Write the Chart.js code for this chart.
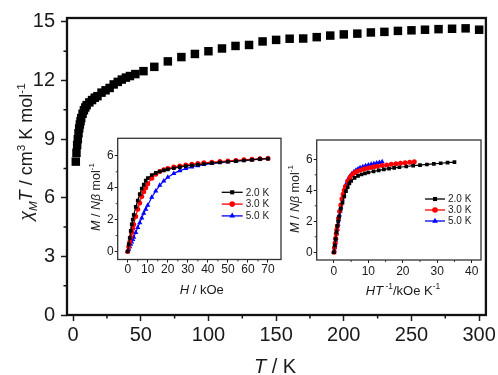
<!DOCTYPE html>
<html>
<head>
<meta charset="utf-8">
<script src="https://cdn.jsdelivr.net/npm/chart.js@4.4.0/dist/chart.umd.min.js"></script>
<style>
  body { margin: 0; background: #fff; }
  #wrap { position: relative; width: 498px; height: 375px; }
  canvas { position: absolute; }
</style>
</head>
<body>
<div id="wrap">
  <canvas id="main" width="498" height="375" style="left:0;top:0"></canvas>
  <canvas id="ins1" width="205" height="170" style="left:80px;top:130px"></canvas>
  <canvas id="ins2" width="205" height="170" style="left:285px;top:130px"></canvas>
</div>
<script>
// main plot: chiM*T against T
var tempK = [2, 2.5, 3, 3.5, 4, 4.5, 5, 5.5, 6, 7, 8, 9, 10, 12, 14, 16, 18, 21, 24, 27, 30, 33, 36, 39, 42, 46, 52,
  60, 70, 80, 90, 100, 110, 120, 130, 140, 150, 160, 170, 180, 190, 200, 210, 220, 230, 240, 250, 260, 270, 280, 290, 300];
var chiT = [7.85, 8.3, 8.7, 9.0, 9.3, 9.55, 9.75, 9.92, 10.08, 10.3, 10.48, 10.62, 10.74, 10.88, 11.0, 11.12, 11.2, 11.38, 11.5, 11.62, 11.8, 11.93, 12.05, 12.15, 12.23, 12.33, 12.48,
  12.7, 12.98, 13.2, 13.36, 13.5, 13.64, 13.77, 13.82, 14.0, 14.08, 14.14, 14.15, 14.22, 14.3, 14.36, 14.4, 14.46, 14.49, 14.54, 14.57, 14.6, 14.63, 14.65, 14.67, 14.6];
var mainXTicks = [0, 50, 100, 150, 200, 250, 300];
var mainYTicks = [0, 3, 6, 9, 12, 15];
var mainXMinor = [25, 75, 125, 175, 225, 275];
var mainYMinor = [1.5, 4.5, 7.5, 10.5, 13.5];

// insets: magnetisation at 2, 3 and 5 K
var fieldH = [0, 0.5, 1, 1.5, 2, 2.5, 3, 4, 5, 6, 7, 8, 9, 10, 12, 14, 16, 18, 20, 23, 26, 29, 32, 35, 38, 42, 46, 50, 54, 58, 62, 66, 70];
var mag2K = [0, 0.45, 0.85, 1.3, 1.7, 2.0, 2.3, 2.8, 3.2, 3.6, 3.95, 4.2, 4.45, 4.6, 4.8, 4.93, 5.02, 5.09, 5.15, 5.22, 5.29, 5.35, 5.4, 5.45, 5.49, 5.54, 5.59, 5.63, 5.67, 5.71, 5.75, 5.79, 5.82];
var mag3K = [0, 0.3, 0.6, 0.9, 1.2, 1.45, 1.7, 2.2, 2.65, 3.05, 3.45, 3.75, 4.0, 4.25, 4.6, 4.85, 5.02, 5.13, 5.21, 5.3, 5.37, 5.43, 5.48, 5.52, 5.56, 5.6, 5.64, 5.68, 5.71, 5.75, 5.78, 5.81, 5.84];
var mag5K = [0, 0.15, 0.3, 0.45, 0.6, 0.75, 0.9, 1.2, 1.5, 1.8, 2.1, 2.4, 2.65, 2.9, 3.4, 3.8, 4.15, 4.42, 4.65, 4.9, 5.07, 5.2, 5.3, 5.38, 5.45, 5.52, 5.58, 5.63, 5.68, 5.72, 5.76, 5.8, 5.84];
var seriesTemps = [2.0, 3.0, 5.0];
var seriesNames = ['2.0 K', '3.0 K', '5.0 K'];
var ins1XTicks = [0, 10, 20, 30, 40, 50, 60, 70];
var ins1XMinor = [5, 15, 25, 35, 45, 55, 65];
var ins2XTicks = [0, 10, 20, 30, 40];
var ins2XMinor = [5, 15, 25, 35];
var insYTicks = [0, 2, 4, 6];
var insYMinor = [1, 3, 5];

var FONT = '"Liberation Sans", Arial, sans-serif';
var INK = '#1a1a1a';

// draws a label made of runs (italic / sup / sub), centred on x,y
function rich(ctx, runs, size, x, y, rot) {
  ctx.save();
  ctx.translate(x, y);
  if (rot) ctx.rotate(rot);
  var total = 0;
  runs.forEach(function(r) {
    var s = (r.sup || r.sub) ? size * 0.65 : size;
    r.font = (r.it ? 'italic ' : '') + s + 'px ' + FONT;
    ctx.font = r.font;
    r.w = ctx.measureText(r.t).width;
    total += r.w;
  });
  var cx = -total / 2;
  ctx.fillStyle = INK;
  ctx.textBaseline = 'alphabetic';
  ctx.textAlign = 'left';
  runs.forEach(function(r) {
    var by = size * 0.36;
    if (r.sup) by -= size * 0.42;
    if (r.sub) by += size * 0.25;
    ctx.font = r.font;
    ctx.fillText(r.t, cx, by);
    cx += r.w;
  });
  ctx.restore();
}

function mark(ctx, style, x, y, r, color) {
  ctx.fillStyle = color;
  ctx.beginPath();
  if (style === 'rect') {
    var s = r * Math.SQRT2;
    ctx.rect(x - s / 2, y - s / 2, s, s);
  } else if (style === 'circle') {
    ctx.arc(x, y, r, 0, Math.PI * 2);
  } else {
    var a = 0;
    for (var i = 0; i < 3; i++) {
      ctx.lineTo(x + Math.sin(a) * r, y - Math.cos(a) * r);
      a += Math.PI * 2 / 3;
    }
    ctx.closePath();
  }
  ctx.fill();
}

function deco(cfg) {
  return {
    id: 'deco',
    afterDraw: function(chart) {
      var ctx = chart.ctx, a = chart.chartArea, sx = chart.scales.x, sy = chart.scales.y;
      ctx.save();
      ctx.strokeStyle = cfg.color;
      ctx.lineWidth = cfg.frame;
      ctx.strokeRect(a.left, a.top, a.right - a.left, a.bottom - a.top);
      ctx.lineWidth = cfg.tickWidth;
      ctx.beginPath();
      cfg.xMinor.forEach(function(v) {
        var px = sx.getPixelForValue(v);
        ctx.moveTo(px, a.bottom);
        ctx.lineTo(px, a.bottom + cfg.minorLen);
      });
      cfg.yMinor.forEach(function(v) {
        var py = sy.getPixelForValue(v);
        ctx.moveTo(a.left, py);
        ctx.lineTo(a.left - cfg.minorLen, py);
      });
      ctx.stroke();
      cfg.titles.forEach(function(t) { rich(ctx, t.runs, t.size, t.x, t.y, t.rot); });
      if (cfg.legend) {
        var L = cfg.legend;
        chart.data.datasets.forEach(function(ds, i) {
          var y = L.y + i * L.dy;
          ctx.strokeStyle = ds.borderColor;
          ctx.lineWidth = 1.3;
          ctx.beginPath();
          ctx.moveTo(L.x, y);
          ctx.lineTo(L.x + L.len, y);
          ctx.stroke();
          mark(ctx, ds.pointStyle, L.x + L.len / 2, y, ds.pointRadius + 0.3, ds.backgroundColor);
          ctx.fillStyle = INK;
          ctx.font = L.size + 'px ' + FONT;
          ctx.textBaseline = 'middle';
          ctx.textAlign = 'left';
          ctx.fillText(ds.label, L.x + L.len + 3, y + 0.5);
        });
      }
      ctx.restore();
    }
  };
}

function axis(min, max, ticks, size, tickLen, pad, fit) {
  return {
    type: 'linear', min: min, max: max,
    afterBuildTicks: function(s) { s.ticks = ticks.map(function(v) { return { value: v }; }); },
    afterFit: fit,
    grid: { drawOnChartArea: false, drawTicks: true, tickLength: tickLen, tickColor: INK, tickWidth: size > 15 ? 1.5 : 1 },
    border: { display: false },
    ticks: { font: { size: size, family: FONT }, color: INK, padding: pad, autoSkip: false, maxRotation: 0 }
  };
}

var base = {
  responsive: false, animation: false, devicePixelRatio: 1,
  events: [],
  plugins: { legend: { display: false }, tooltip: { enabled: false } }
};

function pts(xs, ys, scale) {
  return xs.map(function(x, i) { return { x: x / scale, y: ys[i] }; });
}

// ---------- main chart ----------
new Chart(document.getElementById('main'), {
  type: 'scatter',
  data: {
    datasets: [{
      data: pts(tempK, chiT, 1),
      pointStyle: 'rect', pointRadius: 6, backgroundColor: '#000', borderColor: '#000', borderWidth: 0
    }]
  },
  options: Object.assign({}, base, {
    layout: { padding: { left: 0, top: 7, right: 11, bottom: 0 } },
    scales: {
      x: axis(-4.5, 305, mainXTicks, 20, 6, 2, function(s) { s.height = 60; }),
      y: axis(0, 15.2, mainYTicks, 20, 6, 6, function(s) { s.width = 67; })
    }
  }),
  plugins: [deco({
    color: '#111', frame: 2.3, tickWidth: 1.5, minorLen: 3.5,
    xMinor: mainXMinor, yMinor: mainYMinor,
    titles: [
      { size: 18, x: 26, y: 152, rot: -Math.PI / 2, runs: [
        { t: '\u03c7', it: true }, { t: 'M', it: true, sub: true }, { t: 'T', it: true },
        { t: ' / cm' }, { t: '3', sup: true }, { t: ' K mol' }, { t: '-1', sup: true }] },
      { size: 20, x: 275, y: 366, runs: [{ t: 'T', it: true }, { t: ' / K' }] }
    ]
  })]
});

// ---------- insets ----------
var colors = ['#000000', '#ff0000', '#0000ff'];
var styles = ['rect', 'circle', 'triangle'];
var radii = [2.6, 2.5, 3.0];
var mags = [mag2K, mag3K, mag5K];

function insetSets(byTemp) {
  return mags.map(function(m, i) {
    return {
      label: seriesNames[i],
      data: pts(fieldH, m, byTemp ? seriesTemps[i] : 1),
      showLine: true, borderColor: colors[i], backgroundColor: colors[i], borderWidth: 1.2,
      pointStyle: styles[i], pointRadius: radii[i], pointBorderWidth: 0
    };
  });
}

var yTitle = [{ t: 'M', it: true }, { t: ' / ' }, { t: 'N\u03b2', it: true }, { t: ' mol' }, { t: '-1', sup: true }];

new Chart(document.getElementById('ins1'), {
  type: 'scatter',
  data: { datasets: insetSets(false) },
  options: Object.assign({}, base, {
    layout: { padding: { left: 0, top: 8.3, right: 4, bottom: 0 } },
    scales: {
      x: axis(-5, 76.5, ins1XTicks, 12, 3, 0, function(s) { s.height = 40.5; }),
      y: axis(-0.5, 7.1, insYTicks, 12, 3, 1, function(s) { s.width = 37.7; })
    }
  }),
  plugins: [deco({
    color: '#333', frame: 1.3, tickWidth: 1, minorLen: 2,
    xMinor: ins1XMinor, yMinor: insYMinor,
    titles: [
      { size: 12.5, x: 15, y: 67, rot: -Math.PI / 2, runs: yTitle.map(function(r) { return Object.assign({}, r); }) },
      { size: 13, x: 121.7, y: 159, runs: [{ t: 'H', it: true }, { t: ' / kOe' }] }
    ],
    legend: { x: 141.7, len: 21, y: 62.3, dy: 11.8, size: 10 }
  })]
});

new Chart(document.getElementById('ins2'), {
  type: 'scatter',
  data: { datasets: insetSets(true) },
  options: Object.assign({}, base, {
    layout: { padding: { left: 0, top: 10, right: 9, bottom: 0 } },
    scales: {
      x: axis(-5, 42.7, ins2XTicks, 12, 3, 1, function(s) { s.height = 40; }),
      y: axis(-0.5, 7.25, insYTicks, 12, 3, 1, function(s) { s.width = 31.7; })
    }
  }),
  plugins: [deco({
    color: '#333', frame: 1.3, tickWidth: 1, minorLen: 2,
    xMinor: ins2XMinor, yMinor: insYMinor,
    titles: [
      { size: 12.5, x: 9, y: 69, rot: -Math.PI / 2, runs: yTitle.map(function(r) { return Object.assign({}, r); }) },
      { size: 13, x: 118, y: 160, runs: [{ t: 'HT', it: true }, { t: ' -1', sup: true }, { t: '/kOe K' }, { t: '-1', sup: true }] }
    ],
    legend: { x: 140, len: 20, y: 69, dy: 11, size: 10 }
  })]
});
</script>
</body>
</html>
